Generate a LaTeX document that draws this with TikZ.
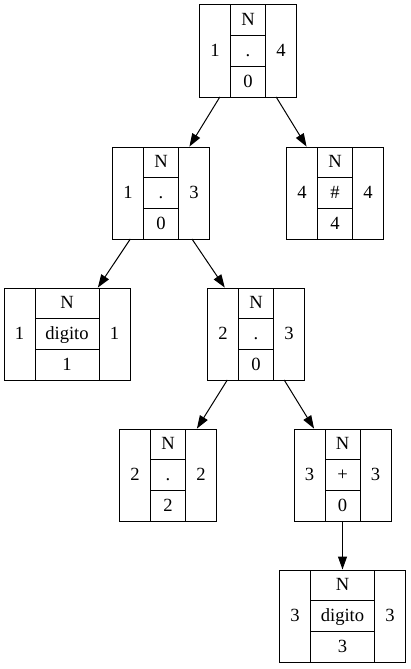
\documentclass[tikz,border=0pt]{standalone}
\usepackage{fontspec}
\setmainfont{Liberation Serif}
\usetikzlibrary{arrows.meta}
\tikzset{
  recbox/.style={draw, line width=1pt, minimum height=92pt, inner sep=0pt, outer sep=0pt},
  recline/.style={line width=1pt},
  rectext/.style={inner sep=0pt, text height=11.5pt, text depth=0.5pt, font=\fontsize{18.6}{22}\selectfont},
  edge/.style={line width=1pt, -{Triangle[length=13pt,width=9pt]}, shorten >=0.5pt}
}
% #1 name, #2 cx, #3 cy, #4 total width, #5 left, #6 top, #7 mid, #8 bottom, #9 right
\newcommand\recnode[9]{%
  \node[recbox, minimum width=#4] (#1) at (#2,#3) {};
  \draw[recline] ([xshift=31pt]#1.north west) -- ([xshift=31pt]#1.south west);
  \draw[recline] ([xshift=-31pt]#1.north east) -- ([xshift=-31pt]#1.south east);
  \draw[recline] ([xshift=31pt,yshift=-30.5pt]#1.north west) -- ([xshift=-31pt,yshift=-30.5pt]#1.north east);
  \draw[recline] ([xshift=31pt,yshift=30.5pt]#1.south west) -- ([xshift=-31pt,yshift=30.5pt]#1.south east);
  \node[rectext] (#1-l) at ([xshift=15.5pt]#1.west) {#5};
  \node[rectext] (#1-r) at ([xshift=-15.5pt]#1.east) {#9};
  \node[rectext] (#1-t) at ([yshift=-15.25pt]#1.north) {#6};
  \node[rectext] (#1-m) at (#1.center) {#7};
  \node[rectext] (#1-b) at ([yshift=15.25pt]#1.south) {#8};
}
\begin{document}
\begin{tikzpicture}[x=1pt, y=-1pt]
\useasboundingbox (0,0) rectangle (411,669);
\recnode{n1}{248}{51}{97pt}{1}{N}{.}{0}{4}
\recnode{n2}{161}{193}{97pt}{1}{N}{.}{0}{3}
\recnode{n3}{335}{193}{97pt}{4}{N}{\#}{4}{4}
\recnode{n4}{67}{334}{126pt}{1}{N}{digito}{1}{1}
\recnode{n5}{256}{334}{97pt}{2}{N}{.}{0}{3}
\recnode{n6}{168}{475}{97pt}{2}{N}{.}{2}{2}
\recnode{n7}{342.5}{475}{97pt}{3}{N}{+}{0}{3}
\recnode{n8}{342.5}{616}{126pt}{3}{N}{digito}{3}{3}
\draw[edge] (n1) -- (n2);
\draw[edge] (n1) -- (n3);
\draw[edge] (n2) -- (n4);
\draw[edge] (n2) -- (n5);
\draw[edge] (n5) -- (n6);
\draw[edge] (n5) -- (n7);
\draw[edge] (n7) -- (n8);
\end{tikzpicture}
\end{document}
